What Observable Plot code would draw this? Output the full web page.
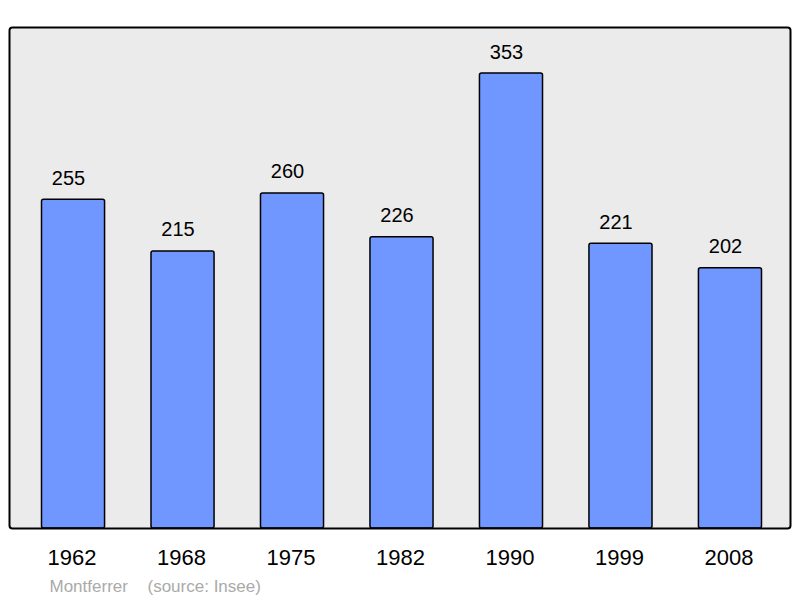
<!DOCTYPE html>
<html>
<head>
<meta charset="utf-8">
<script src="https://cdn.jsdelivr.net/npm/d3@7"></script>
<script src="https://cdn.jsdelivr.net/npm/@observablehq/plot@0.6"></script>
<style>
  html, body { margin: 0; padding: 0; background: #fff; }
  #chart svg { display: block; }
</style>
</head>
<body>
<div id="chart"></div>
<script>
const years = ["1962", "1968", "1975", "1982", "1990", "1999", "2008"];
const population = [255, 215, 260, 226, 353, 221, 202];
const placeName = "Montferrer";
const sourceText = "(source: Insee)";

const data = years.map((year, i) => ({year, value: population[i]}));

const chart = Plot.plot({
  width: 800,
  height: 598,
  marginTop: 27,
  marginBottom: 70,
  marginLeft: 9,
  marginRight: 10,
  style: {fontFamily: "'Liberation Sans', Arial, sans-serif", background: "#fff"},
  x: {domain: years, range: [41.5, 761.5], paddingInner: 0.424, paddingOuter: 0, round: false},
  y: {domain: [0, 388.7], axis: null},
  marks: [
    Plot.frame({fill: "#ebebeb", rx: 3}),
    Plot.barY(data, {x: "year", y: "value", fill: "#7096ff", stroke: "#000", strokeWidth: 1.5, rx: 2}),
    Plot.text(data, {x: "year", y: "value", text: d => String(d.value), dx: -5, dy: -15, lineAnchor: "bottom", fontSize: 20, fill: "#000"}),
    Plot.axisX({tickSize: 0, tickPadding: 21, dx: -1.5, fontSize: 22, color: "#000", label: null}),
    Plot.frame({stroke: "#000", strokeWidth: 2, rx: 3}),
    Plot.text([placeName], {frameAnchor: "bottom-left", text: d => d, dx: 40, dy: 63, fontSize: 17, fill: "#aaaaaa", textAnchor: "start", lineAnchor: "bottom"}),
    Plot.text([sourceText], {frameAnchor: "bottom-left", text: d => d, dx: 138, dy: 63, fontSize: 17, fill: "#aaaaaa", textAnchor: "start", lineAnchor: "bottom"})
  ]
});
document.getElementById("chart").appendChild(chart);
</script>
</body>
</html>
